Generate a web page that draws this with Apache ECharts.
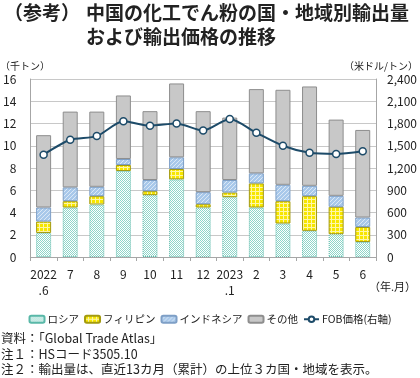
<!DOCTYPE html>
<html><head><meta charset="utf-8">
<script src="https://cdn.jsdelivr.net/npm/echarts@6/dist/echarts.min.js"></script>
<style>html,body{margin:0;padding:0;background:#fff}#c{width:420px;height:378px}</style>
</head><body><div id="c"></div>
<script>
const categories = ['2022\n.6','7','8','9','10','11','12','2023\n.1','2','3','4','5','6'];
const russia      = [2.16,4.45,4.72,7.73,5.56,6.98,4.45,5.38,4.45,3.01,2.35,2.05,1.35];
const philippines = [1.03,0.57,0.75,0.54,0.36,0.93,0.30,0.42,2.17,2.01,3.12,2.46,1.35];
const indonesia   = [1.26,1.24,0.84,0.54,1.00,1.05,1.08,1.12,0.90,1.47,0.93,0.99,0.85];
const others      = [6.50,6.81,6.76,5.71,6.19,6.64,7.28,5.61,7.57,8.54,8.93,6.85,7.87];
const fobPrice    = [1380,1580,1630,1830,1770,1800,1705,1860,1675,1500,1405,1390,1425];
const leftTicks = [0,2,4,6,8,10,12,14,16];
const rightTicks = [0,300,600,900,1200,1500,1800,2100,2400];
const seriesNames = ['ロシア','フィリピン','インドネシア','その他','FOB価格(右軸)'];

function tile(w,h,draw){const c=document.createElement('canvas');c.width=w;c.height=h;const g=c.getContext('2d');draw(g);return {image:c,repeat:'repeat'};}
const patRussia = tile(2,2,g=>{g.fillStyle='#ffffff';g.fillRect(0,0,2,2);g.fillStyle='#8fd6ca';g.fillRect(0,0,1,1);g.fillRect(1,1,1,1);});
const patPhil = tile(4,4,g=>{g.fillStyle='#f7e600';g.fillRect(0,0,4,4);g.fillStyle='#fdf7a8';g.fillRect(3,0,1,4);g.fillRect(0,3,4,1);});
const patIndo = tile(4,4,g=>{g.fillStyle='#a8c8ea';g.fillRect(0,0,4,4);g.fillStyle='#dbe8f6';for(let i=0;i<4;i++){g.fillRect(i,3-i,1,1);}});

const chart = echarts.init(document.getElementById('c'), null, {renderer:'canvas'});
const font = '"Noto Sans CJK JP", "Noto Sans", sans-serif';
const barBase = {type:'bar', stack:'t', barWidth:15, yAxisIndex:0};
chart.setOption({
  animation:false,
  textStyle:{fontFamily:font},
  grid:{left:28,right:42,top:79,bottom:121},
  legend:{
    top:309, left:'center', itemWidth:15, itemHeight:7, itemGap:5,
    textStyle:{fontSize:10.5,color:'#222',fontFamily:font,padding:[0,0,0,-2]},
    data:seriesNames
  },
  xAxis:{
    type:'category', data:categories,
    axisLine:{lineStyle:{color:'#a6a6a6'}},
    axisTick:{show:true,length:4,lineStyle:{color:'#a6a6a6'}},
    axisLabel:{color:'#222',fontSize:12,lineHeight:16,margin:9,interval:0}
  },
  yAxis:[
    {type:'value',min:0,max:16,interval:2,
     axisLine:{show:true,lineStyle:{color:'#a6a6a6'}},
     axisTick:{show:false},
     splitLine:{lineStyle:{color:'#c8c8c8'}},
     axisLabel:{color:'#222',fontSize:12,margin:14}},
    {type:'value',min:0,max:2400,interval:300,
     axisLine:{show:true,lineStyle:{color:'#a6a6a6'}},
     axisTick:{show:false},
     splitLine:{show:false},
     axisLabel:{color:'#222',fontSize:12,margin:11,
       formatter:v=>v.toLocaleString('en-US')}}
  ],
  series:[
    Object.assign({},barBase,{name:seriesNames[0],data:russia,
      itemStyle:{color:patRussia,borderColor:'#59b8a8',borderWidth:1,borderType:'dotted'}}),
    Object.assign({},barBase,{name:seriesNames[1],data:philippines,
      itemStyle:{color:patPhil,borderColor:'#a39a10',borderWidth:1}}),
    Object.assign({},barBase,{name:seriesNames[2],data:indonesia,
      itemStyle:{color:patIndo,borderColor:'#7e9fc6',borderWidth:1}}),
    Object.assign({},barBase,{name:seriesNames[3],data:others,
      itemStyle:{color:'#c8c8c8',borderColor:'#8e8e8e',borderWidth:1}}),
    {type:'line',name:seriesNames[4],yAxisIndex:1,data:fobPrice,smooth:0.25,
     symbol:'circle',symbolSize:7,
     lineStyle:{color:'#1d4b69',width:2},
     itemStyle:{color:'#ffffff',borderColor:'#1d4b69',borderWidth:1.5},
     z:5}
  ],
  graphic:[
    {type:'text',left:4,top:3,style:{text:'（参考）',font:'bold 19px '+font,fill:'#222'}},
    {type:'text',left:86,top:3,style:{text:'中国の化工でん粉の国・地域別輸出量',font:'bold 19px '+font,fill:'#222'}},
    {type:'text',left:86,top:27,style:{text:'および輸出価格の推移',font:'bold 19px '+font,fill:'#222'}},
    {type:'text',left:0,top:61,style:{text:'（千トン）',font:'10px '+font,fill:'#222'}},
    {type:'text',right:2,top:61,style:{text:'（米ドル/トン）',font:'10px '+font,fill:'#222'}},
    {type:'text',right:4,top:281,style:{text:'（年.月）',font:'11px '+font,fill:'#222'}},
    {type:'text',left:1,top:332,style:{text:'資料：「Global Trade Atlas」',font:'12.5px '+font,fill:'#222'}},
    {type:'text',left:1,top:348,style:{text:'注１：HSコード3505.10',font:'12.5px '+font,fill:'#222'}},
    {type:'text',left:1,top:363,style:{text:'注２：輸出量は、直近13カ月（累計）の上位３カ国・地域を表示。',font:'12.5px '+font,fill:'#222'}}
  ]
});
</script></body></html>
